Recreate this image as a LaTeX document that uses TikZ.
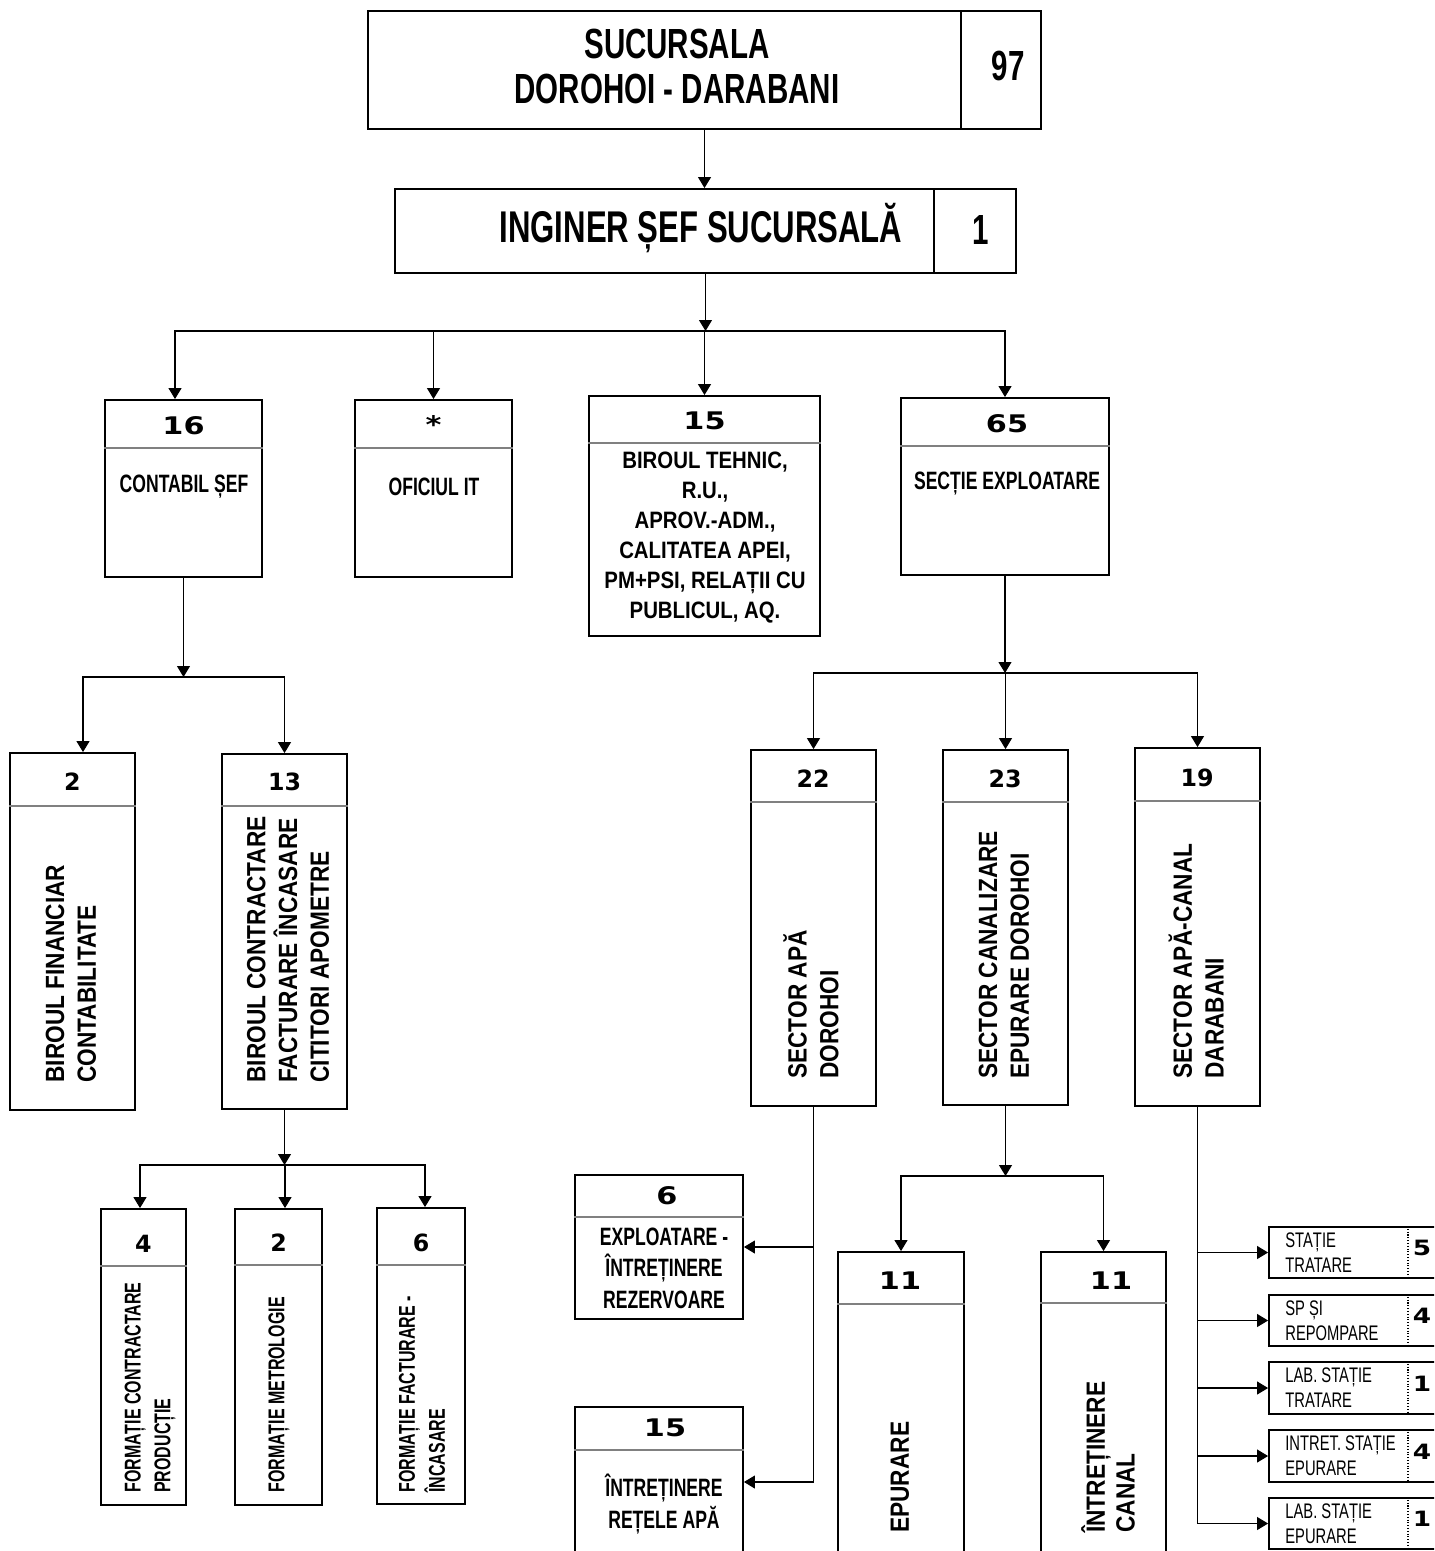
\documentclass[tikz,border=0pt]{standalone}
\usepackage{fontspec}
\setmainfont{Liberation Sans}
\newfontfamily\condfont[FakeStretch=0.7]{Liberation Sans}
\newfontfamily\semifont[FakeStretch=0.86]{Liberation Sans}
\newfontfamily\widefont[FakeStretch=1.25]{DejaVu Sans}
\newfontfamily\numfont{DejaVu Sans}
\usetikzlibrary{arrows.meta}

\begin{document}
\begin{tikzpicture}[
        x=0.02cm, y=-0.02cm,
        box/.style={draw, line width=1.1pt, inner sep=0pt},
        hline/.style={line width=0.6pt, gray},
        link/.style={line width=0.6pt},
        arr/.style={link, -{Triangle[length=0.22cm,width=0.26cm]}},
        title/.style={font=\condfont\bfseries\fontsize{24}{25.6}\selectfont, align=center, inner sep=0pt},
        lbl/.style={font=\condfont\bfseries\fontsize{14.3}{17}\selectfont, align=center, inner sep=0pt},
        small/.style={font=\semifont\bfseries\fontsize{13.5}{17}\selectfont, align=center, inner sep=0pt},
        rot/.style={rotate=90, anchor=west, align=left, inner sep=0pt, font=\semifont\bfseries\fontsize{15}{18.1}\selectfont},
        rotsmall/.style={rot, font=\condfont\bfseries\fontsize{13}{17}\selectfont},
        tiny/.style={anchor=west, align=left, inner sep=0pt, font=\condfont\fontsize{12}{14.2}\selectfont},
        widenr/.style={font=\widefont\bfseries\fontsize{13.8}{14}\selectfont, inner sep=0pt},
        nr/.style={font=\numfont\bfseries\fontsize{13.5}{14}\selectfont, inner sep=0pt}
    ]
    \useasboundingbox (0,0) rectangle (1434,1551);
    \fill[white] (0,0) rectangle (1434,1551);
    \clip (0,0) rectangle (1434,1551);

    % top
    \node[box, minimum width=13.46cm, minimum height=2.36cm] (suc) at (704.5,70) {};
    \draw[link] (suc.north -| 961,0) -- (suc.south -| 961,0);
    \node[title] (suctxt) at (677,66) {SUCURSALA\\DOROHOI - DARABANI};
    \node[title] (sucnr) at (1008,66) {97};

    \node[box, minimum width=12.42cm, minimum height=1.68cm] (sef) at (705.5,231) {};
    \draw[link] (sef.north -| 934,0) -- (sef.south -| 934,0);
    \node[title, font=\condfont\bfseries\fontsize{25.3}{26}\selectfont] (seftxt) at (701,228) {INGINER ȘEF SUCURSALĂ};
    \node[title] (sefnr) at (981,230) {1};

    \draw[arr] (suc.south) -- (suc.south |- sef.north);

    % level 2
    \node[box, minimum width=3.14cm, minimum height=3.54cm] (contabil) at (183.5,488.5) {};
    \draw[hline] (contabil.west |- 0,448) -- (contabil.east |- 0,448);
    \node[widenr] (contabilnr) at (183.5,426) {16};
    \node[lbl] (contabiltxt) at (184,487) {CONTABIL ȘEF};

    \node[box, minimum width=3.14cm, minimum height=3.54cm] (oficiu) at (433.5,488.5) {};
    \draw[hline] (oficiu.west |- 0,448) -- (oficiu.east |- 0,448);
    \node[widenr] (oficiunr) at (433.5,424) {*};
    \node[lbl] (oficiutxt) at (434,487) {OFICIUL IT};

    \node[box, minimum width=4.62cm, minimum height=4.8cm] (birou) at (704.5,516) {};
    \draw[hline] (birou.west |- 0,443) -- (birou.east |- 0,443);
    \node[widenr] (birounr) at (704.5,421) {15};
    \node[small] (biroutxt) at (705,537.5) {BIROUL TEHNIC,\\R.U.,\\APROV.-ADM.,\\CALITATEA APEI,\\PM+PSI, RELAȚII CU\\PUBLICUL, AQ.};

    \node[box, minimum width=4.16cm, minimum height=3.54cm] (sectie) at (1005,486.5) {};
    \draw[hline] (sectie.west |- 0,446) -- (sectie.east |- 0,446);
    \node[widenr] (sectienr) at (1007,424) {65};
    \node[lbl] (sectietxt) at (1007,484) {SECȚIE EXPLOATARE};

    \coordinate (bus1) at (705.5,331);
    \draw[arr] (sef.south) -- (bus1);
    \draw[arr] (bus1) -| ([xshift=-0.17cm]contabil.north);
    \draw[arr] (bus1) -| (oficiu.north);
    \draw[arr] (bus1) -| (birou.north);
    \draw[arr] (bus1) -| (sectie.north);

    % level 3
    \node[box, minimum width=2.5cm, minimum height=7.14cm] (bfin) at (72.5,931.5) {};
    \draw[hline] (bfin.west |- 0,806) -- (bfin.east |- 0,806);
    \node[nr] (bfinnr) at (72.5,782) {2};
    \node[rot] (bfintxt) at (71,1083) {BIROUL FINANCIAR\\CONTABILITATE};

    \node[box, minimum width=2.5cm, minimum height=7.1cm] (bfact) at (284.5,931.5) {};
    \draw[hline] (bfact.west |- 0,806) -- (bfact.east |- 0,806);
    \node[nr] (bfactnr) at (284.5,782) {13};
    \node[rot] (bfacttxt) at (288,1083) {BIROUL CONTRACTARE\\FACTURARE ÎNCASARE\\CITITORI APOMETRE};

    \node[box, minimum width=2.5cm, minimum height=7.12cm] (sapa) at (813.5,928) {};
    \draw[hline] (sapa.west |- 0,802) -- (sapa.east |- 0,802);
    \node[nr] (sapanr) at (813,779) {22};
    \node[rot] (sapatxt) at (811,1079) {SECTOR APĂ\\DOROHOI};

    \node[box, minimum width=2.5cm, minimum height=7.1cm] (scan) at (1005.5,927.5) {};
    \draw[hline] (scan.west |- 0,802) -- (scan.east |- 0,802);
    \node[nr] (scannr) at (1005,779) {23};
    \node[rot] (scantxt) at (1004,1079) {SECTOR CANALIZARE\\EPURARE DOROHOI};

    \node[box, minimum width=2.5cm, minimum height=7.16cm] (sadar) at (1197.5,927) {};
    \draw[hline] (sadar.west |- 0,801) -- (sadar.east |- 0,801);
    \node[nr] (sadarnr) at (1197,778) {19};
    \node[rot] (sadartxt) at (1196,1079) {SECTOR APĂ-CANAL\\DARABANI};

    \coordinate (bus2) at (183.5,677);
    \draw[arr] (contabil.south) -- (bus2);
    \draw[arr] (bus2) -| ([xshift=0.21cm]bfin.north);
    \draw[arr] (bus2) -| (bfact.north);

    \coordinate (bus3) at (1005,673);
    \draw[arr] (sectie.south) -- (bus3);
    \draw[arr] (bus3) -| (sapa.north);
    \draw[arr] (bus3) -| (scan.north);
    \draw[arr] (bus3) -| (sadar.north);

    % formatii
    \node[box, minimum width=1.7cm, minimum height=5.92cm] (fcp) at (143.5,1357) {};
    \draw[hline] (fcp.west |- 0,1266) -- (fcp.east |- 0,1266);
    \node[nr] (fcpnr) at (143.5,1244) {4};
    \node[rotsmall] (fcptxt) at (150,1493) {FORMAȚIE CONTRACTARE\\PRODUCȚIE};

    \node[box, minimum width=1.74cm, minimum height=5.92cm] (fm) at (278.5,1357) {};
    \draw[hline] (fm.west |- 0,1265) -- (fm.east |- 0,1265);
    \node[nr] (fmnr) at (278.5,1243) {2};
    \node[rotsmall] (fmtxt) at (279,1493) {FORMAȚIE METROLOGIE};

    \node[box, minimum width=1.76cm, minimum height=5.92cm] (ffact) at (421,1356) {};
    \draw[hline] (ffact.west |- 0,1265) -- (ffact.east |- 0,1265);
    \node[nr] (ffactnr) at (421,1243) {6};
    \node[rotsmall] (ffacttxt) at (422,1493) {FORMAȚIE FACTURARE -\\ÎNCASARE};

    \coordinate (bus4) at (284.5,1165);
    \draw[arr] (bfact.south) -- (bus4);
    \draw[arr] (bus4) -| ([xshift=-0.07cm]fcp.north);
    \draw[arr] (bus4) -| ([xshift=0.13cm]fm.north);
    \draw[arr] (bus4) -| ([xshift=0.08cm]ffact.north);

    % sector apa dorohoi
    \node[box, minimum width=3.36cm, minimum height=2.88cm] (rez) at (659,1247) {};
    \draw[hline] (rez.west |- 0,1217) -- (rez.east |- 0,1217);
    \node[widenr] (reznr) at (667,1196) {6};
    \node[small, font=\condfont\bfseries\fontsize{14.3}{18}\selectfont] (reztxt) at (664,1268) {EXPLOATARE -\\ÎNTREȚINERE\\REZERVOARE};

    \node[box, minimum width=3.36cm, minimum height=3cm] (retele) at (659,1482) {};
    \draw[hline] (retele.west |- 0,1450) -- (retele.east |- 0,1450);
    \node[widenr] (retelenr) at (665,1428) {15};
    \node[small, font=\condfont\bfseries\fontsize{14.3}{18}\selectfont] (reteletxt) at (664,1504) {ÎNTREȚINERE\\REȚELE APĂ};

    \draw[arr] (sapa.south) |- (rez.east);
    \draw[arr] (sapa.south) |- (retele.east);

    % sector canalizare
    \node[box, minimum width=2.52cm, minimum height=6.16cm] (epur) at (901,1406) {};
    \draw[hline] (epur.west |- 0,1304) -- (epur.east |- 0,1304);
    \node[widenr] (epurnr) at (900,1281) {11};
    \node[rot] (epurtxt) at (900,1533) {EPURARE};

    \node[box, minimum width=2.5cm, minimum height=6.16cm] (intcan) at (1103.5,1406) {};
    \draw[hline] (intcan.west |- 0,1303) -- (intcan.east |- 0,1303);
    \node[widenr] (intcannr) at (1111,1281) {11};
    \node[rot, font=\semifont\bfseries\fontsize{15}{17}\selectfont] (intcantxt) at (1108,1533) {ÎNTREȚINERE\\CANAL};

    \coordinate (bus5) at (1005.5,1176);
    \draw[arr] (scan.south) -- (bus5);
    \draw[arr] (bus5) -| (epur.north);
    \draw[arr] (bus5) -| (intcan.north);

    % sector apa-canal darabani
    \node[box, minimum width=3.5cm, minimum height=1.02cm] (st1) at (1356.5,1252.5) {};
    \draw[link, densely dotted] (st1.north -| 1408,0) -- (st1.south -| 1408,0);
    \node[tiny] (st1txt) at (1285,1252.5) {STAȚIE\\TRATARE};
    \node[widenr, font=\widefont\bfseries\fontsize{12}{12}\selectfont] (st1nr) at (1422,1248) {5};

    \node[box, minimum width=3.5cm, minimum height=1.02cm] (st2) at (1356.5,1320.5) {};
    \draw[link, densely dotted] (st2.north -| 1408,0) -- (st2.south -| 1408,0);
    \node[tiny] (st2txt) at (1285,1320.5) {SP ȘI\\REPOMPARE};
    \node[widenr, font=\widefont\bfseries\fontsize{12}{12}\selectfont] (st2nr) at (1422,1316) {4};

    \node[box, minimum width=3.5cm, minimum height=1.04cm] (st3) at (1356.5,1388) {};
    \draw[link, densely dotted] (st3.north -| 1408,0) -- (st3.south -| 1408,0);
    \node[tiny] (st3txt) at (1285,1388) {LAB. STAȚIE\\TRATARE};
    \node[widenr, font=\widefont\bfseries\fontsize{12}{12}\selectfont] (st3nr) at (1422,1384) {1};

    \node[box, minimum width=3.5cm, minimum height=1.04cm] (st4) at (1356.5,1456) {};
    \draw[link, densely dotted] (st4.north -| 1408,0) -- (st4.south -| 1408,0);
    \node[tiny] (st4txt) at (1285,1456) {INTRET. STAȚIE\\EPURARE};
    \node[widenr, font=\widefont\bfseries\fontsize{12}{12}\selectfont] (st4nr) at (1422,1452) {4};

    \node[box, minimum width=3.5cm, minimum height=1.02cm] (st5) at (1356.5,1523.5) {};
    \draw[link, densely dotted] (st5.north -| 1408,0) -- (st5.south -| 1408,0);
    \node[tiny] (st5txt) at (1285,1523.5) {LAB. STAȚIE\\EPURARE};
    \node[widenr, font=\widefont\bfseries\fontsize{12}{12}\selectfont] (st5nr) at (1422,1519) {1};

    \draw[arr] (sadar.south) |- (st1.west);
    \draw[arr] (sadar.south) |- (st2.west);
    \draw[arr] (sadar.south) |- (st3.west);
    \draw[arr] (sadar.south) |- (st4.west);
    \draw[arr] (sadar.south) |- (st5.west);
\end{tikzpicture}
\end{document}
